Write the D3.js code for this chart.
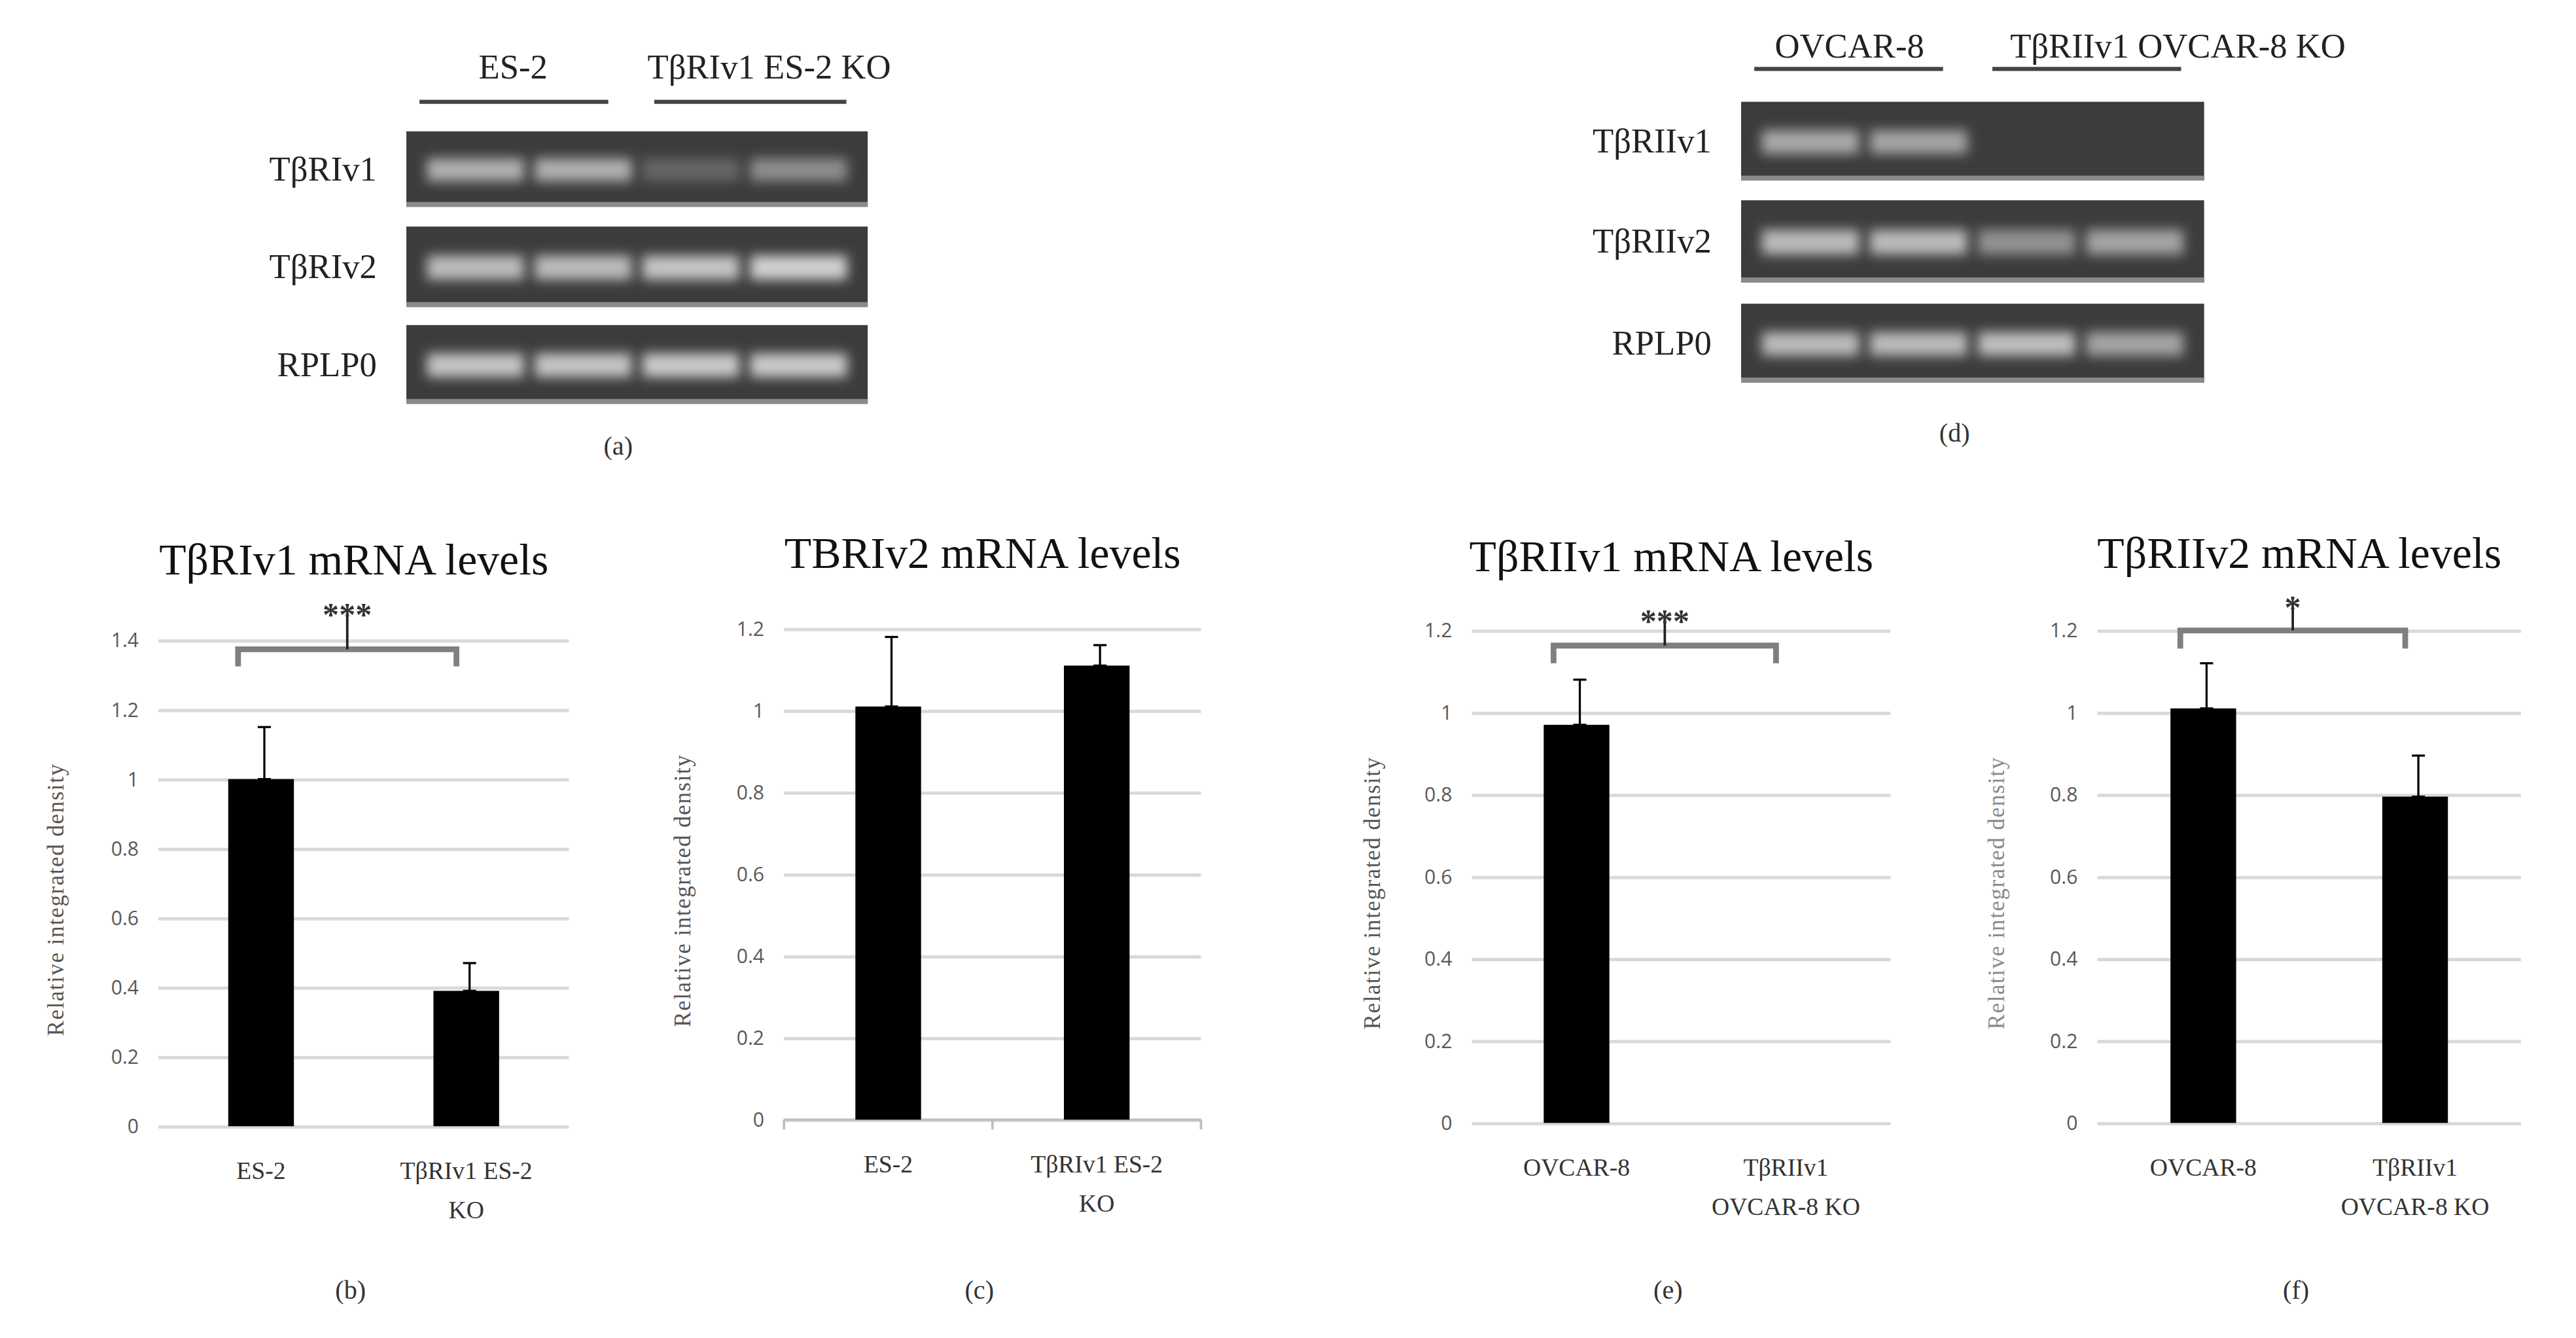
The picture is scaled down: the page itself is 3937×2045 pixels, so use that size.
<!DOCTYPE html>
<html>
<head>
<meta charset="utf-8">
<script src="https://cdn.jsdelivr.net/npm/d3@7"></script>
<style>
body{margin:0;background:#fff}
text{font-family:"Liberation Serif",serif}
.tick text{font-family:"Open Sans",sans-serif;fill:#595959}
</style>
</head>
<body>
<svg id="fig" width="3937" height="2045" viewBox="0 0 1568 815"></svg>
<script>
// gel panels
var gelRowsA = ["TβRIv1","TβRIv2","RPLP0"]
var gelIntA = [[0.75,0.75,0.42,0.6],[0.8,0.8,0.85,0.92],[0.85,0.85,0.88,0.88]]
var gelRowsD = ["TβRIIv1","TβRIIv2","RPLP0"]
var gelIntD = [[0.72,0.7,0,0],[0.8,0.8,0.62,0.7],[0.8,0.8,0.82,0.7]]

// bar panels
var catsB = ["ES-2","TβRIv1 ES-2|KO"]
var valsB = [1.0, 0.39]
var errB = [0.15, 0.08]
var catsC = ["ES-2","TβRIv1 ES-2|KO"]
var valsC = [1.01, 1.11]
var errC = [0.17, 0.05]
var catsE = ["OVCAR-8","TβRIIv1|OVCAR-8 KO"]
var valsE = [0.97, 0]
var errE = [0.11, 0]
var catsF = ["OVCAR-8","TβRIIv1|OVCAR-8 KO"]
var valsF = [1.01, 0.795]
var errF = [0.11, 0.1]

var svg = d3.select("#fig")
var defs = svg.append("defs")
defs.append("filter").attr("id","blur").attr("x","-30%").attr("y","-60%").attr("width","160%").attr("height","220%")
	.append("feGaussianBlur").attr("stdDeviation", 3.5)

function drawGel(x0, x1, rowsY, rowH, names, ints, header, letter)
{
	var g = svg.append("g")
	var lx = d3.scaleBand().domain(d3.range(4)).range([x0+6, x1-6]).padding(0.1)
	rowsY.forEach(function(y, r)
	{
		g.append("rect").attr("x", x0).attr("y", y).attr("width", x1-x0).attr("height", rowH[r])
			.attr("fill", "#3c3c3c")
		g.append("rect").attr("x", x0).attr("y", y+rowH[r]-3).attr("width", x1-x0).attr("height", 3).attr("fill", "#8a8a8a")
		ints[r].forEach(function(v, i)
		{
			if(v <= 0) return
			g.append("rect").attr("x", lx(i)).attr("y", y+rowH[r]*0.36).attr("width", lx.bandwidth())
				.attr("height", rowH[r]*0.3).attr("fill", d3.interpolateGreys(1-v*0.78))
				.attr("filter", "url(#blur)")
		})
		g.append("text").attr("x", x0-18).attr("y", y+rowH[r]/2+7).attr("text-anchor","end")
			.attr("font-size", 21).attr("fill","#222").text(names[r])
	})
	header.forEach(function(h)
	{
		g.append("text").attr("x", h.tx).attr("y", h.ty).attr("text-anchor","middle")
			.attr("font-size", 21).attr("fill","#222").text(h.t)
		g.append("line").attr("x1", h.a).attr("x2", h.b).attr("y1", h.ly).attr("y2", h.ly)
			.attr("stroke","#444").attr("stroke-width", 2.5)
	})
	g.append("text").attr("x", letter[0]).attr("y", letter[1]).attr("text-anchor","middle")
		.attr("font-size", 16).attr("fill","#333").text(letter[2])
}

drawGel(247, 528, [80,138,198], [46,49,48], gelRowsA, gelIntA,
	[{t:"ES-2", tx:312, a:255, b:370, ty:48, ly:62}, {t:"TβRIv1 ES-2 KO", tx:468, a:398, b:515, ty:48, ly:62}], [376, 277, "(a)"])
drawGel(1060, 1342, [62,122,185], [48,50,48], gelRowsD, gelIntD,
	[{t:"OVCAR-8", tx:1126, a:1068, b:1183, ty:35, ly:42}, {t:"TβRIIv1 OVCAR-8 KO", tx:1326, a:1213, b:1328, ty:35, ly:42}], [1190, 269, "(d)"])

function drawBar(o)
{
	var g = svg.append("g")
	var x = d3.scaleBand().domain(o.cats).range([o.x0, o.x1]).paddingInner(0.68).paddingOuter(0.34)
	var y = d3.scaleLinear().domain([0, o.ymax]).range([o.y0, o.y1])
	var ticks = d3.range(0, o.ymax+0.001, 0.2)
	var ax = g.append("g").attr("transform","translate("+o.x0+",0)")
		.call(d3.axisLeft(y).tickValues(ticks).tickSize(-(o.x1-o.x0)).tickPadding(12)
			.tickFormat(function(d){return d3.format("~g")(+d.toFixed(1))}))
	ax.select(".domain").remove()
	ax.selectAll(".tick line").attr("stroke","#d9d9d9").attr("stroke-width",2)
	ax.selectAll(".tick text").attr("font-size", 12)
	if(o.axisLine)
	{
		g.append("line").attr("x1",o.x0).attr("x2",o.x1).attr("y1",o.y0).attr("y2",o.y0).attr("stroke","#bfbfbf").attr("stroke-width",1.5)
		;[o.x0, (o.x0+o.x1)/2, o.x1].forEach(function(t){
			g.append("line").attr("x1",t).attr("x2",t).attr("y1",o.y0).attr("y2",o.y0+6).attr("stroke","#bfbfbf").attr("stroke-width",1.5)
		})
	}
	var bw = 40
	o.cats.forEach(function(c, i)
	{
		var cx = x(c) + x.bandwidth()/2
		if(o.vals[i] > 0)
			g.append("rect").attr("x", cx-bw/2).attr("y", y(o.vals[i])).attr("width", bw)
				.attr("height", o.y0-y(o.vals[i])).attr("fill","#000")
		if(o.errs[i] > 0)
		{
			var ex = cx+2
			g.append("line").attr("x1",ex).attr("x2",ex).attr("y1",y(o.vals[i])).attr("y2",y(o.vals[i]+o.errs[i]))
				.attr("stroke","#000").attr("stroke-width",1.3)
			g.append("line").attr("x1",ex-4).attr("x2",ex+4).attr("y1",y(o.vals[i]+o.errs[i])).attr("y2",y(o.vals[i]+o.errs[i]))
				.attr("stroke","#000").attr("stroke-width",1.3)
			g.append("line").attr("x1",ex-4).attr("x2",ex+4).attr("y1",y(o.vals[i])).attr("y2",y(o.vals[i]))
				.attr("stroke","#000").attr("stroke-width",1.3)
		}
		c.split("|").forEach(function(l, k)
		{
			g.append("text").attr("x", cx).attr("y", o.y0+32+k*24).attr("text-anchor","middle")
				.attr("font-size", 15).attr("fill","#333").text(l)
		})
	})
	g.append("text").attr("x", (o.x0+o.x1)/2 - 6).attr("y", o.titleY).attr("text-anchor","middle")
		.attr("font-size", 27).attr("fill","#111").text(o.title)
	g.append("text").attr("transform","translate("+o.labX+","+((o.y0+o.y1)/2+10)+") rotate(-90)")
		.attr("text-anchor","middle").attr("font-size",14).attr("letter-spacing",0.6)
		.attr("fill", o.labColor || "#555").text("Relative integrated density")
	if(o.sig)
	{
		var b = o.sig
		var xa = x(o.cats[0]) + x.bandwidth()/2 - 14, xb = x(o.cats[1]) + x.bandwidth()/2 - 6
		var p = d3.path()
		p.moveTo(xa, y(b.lo)); p.lineTo(xa, y(b.h)); p.lineTo(xb, y(b.h)); p.lineTo(xb, y(b.lo))
		g.append("path").attr("d", p.toString()).attr("fill","none").attr("stroke","#7f7f7f").attr("stroke-width",3.5)
		g.append("line").attr("x1",(xa+xb)/2).attr("x2",(xa+xb)/2).attr("y1",y(b.h)).attr("y2",y(b.top))
			.attr("stroke","#222").attr("stroke-width",1.5)
		g.append("text").attr("x",(xa+xb)/2).attr("y",y(b.top)+10).attr("text-anchor","middle")
			.attr("font-size",20).attr("font-weight","bold").attr("fill","#333").text(b.stars)
	}
	g.append("text").attr("x", (o.x0+o.x1)/2 - 8).attr("y", 791).attr("text-anchor","middle")
		.attr("font-size", 16).attr("fill","#333").text(o.letter)
}

drawBar({cats:catsB, vals:valsB, errs:errB, x0:96, x1:346, y0:686, y1:390, ymax:1.4, title:"TβRIv1 mRNA levels", titleY:350,
	labX:38, letter:"(b)", sig:{h:1.374, lo:1.325, top:1.49, stars:"***"}})
drawBar({cats:catsC, vals:valsC, errs:errC, x0:477, x1:731, y0:682, y1:383, ymax:1.2, title:"TBRIv2 mRNA levels", titleY:346,
	labX:420, letter:"(c)", axisLine:true})
drawBar({cats:catsE, vals:valsE, errs:errE, x0:896, x1:1151, y0:684, y1:384, ymax:1.2, title:"TβRIIv1 mRNA levels", titleY:348,
	labX:840, letter:"(e)", sig:{h:1.163, lo:1.12, top:1.236, stars:"***"}})
drawBar({cats:catsF, vals:valsF, errs:errF, x0:1277, x1:1535, y0:684, y1:384, ymax:1.2, title:"TβRIIv2 mRNA levels", titleY:346,
	labX:1220, letter:"(f)", labColor:"#8a8a8a", sig:{h:1.2, lo:1.156, top:1.27, stars:"*"}})
</script>
</body>
</html>
